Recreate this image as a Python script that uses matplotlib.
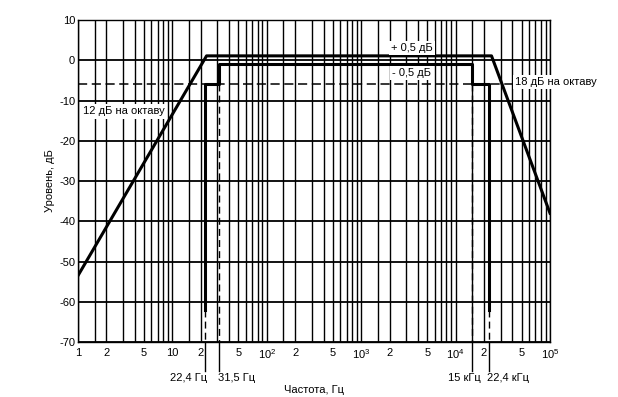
import numpy as np
import matplotlib
matplotlib.use("Agg")
import matplotlib.pyplot as plt
from matplotlib.ticker import FixedLocator, NullFormatter

plt.rcParams['font.family'] = ['Liberation Sans', 'DejaVu Sans']
plt.rcParams['mathtext.fontset'] = 'custom'
plt.rcParams['mathtext.rm'] = 'Liberation Sans'
plt.rcParams['mathtext.default'] = 'regular'
plt.rcParams['axes.unicode_minus'] = False

# ---------------------------------------------------------------------
# Datos
# ---------------------------------------------------------------------
# Máscara superior (12 dB/oct abajo, 18 dB/oct arriba)
f_sup = [1, 23, 24000, 1e5]
nivel_sup = [-53.5, 1.1, 1.1, -38]

# Máscara inferior (escalones en 22,4 Гц / 31,5 Гц y 15 кГц / 22,4 кГц)
f_inf = [22.4, 22.4, 31.5, 31.5, 15000, 15000, 22400, 22400]
nivel_inf = [-62, -6, -6, -0.9, -0.9, -6, -6, -62]

# Línea de trazos a -6 dB
f_trazos = [1, 40000]
nivel_trazos = [-6, -6]

# Frecuencias marcadas debajo del eje
f_marcas = [22.4, 31.5, 15000, 22400]
nivel_marcas_ini = [-62, -6, -6, -62]
textos_marcas = ["22,4 Гц", "31,5 Гц", "15 кГц", "22,4 кГц"]
x_textos_marcas = [23.6, 30.3, 18500, 21600]
ha_marcas = ["right", "left", "right", "left"]

# Ejes
ticks_x = [1, 2, 5, 10, 20, 50, 100, 200, 500, 1000, 2000, 5000,
           10000, 20000, 50000, 100000]
etiquetas_x = ["1", "2", "5", "10", "2", "5", r"$10^2$", "2", "5", r"$10^3$",
               "2", "5", r"$10^4$", "2", "5", r"$10^5$"]
mult_menores = [1.5, 3, 4, 6, 7, 8, 9]
ticks_y = [10, 0, -10, -20, -30, -40, -50, -60, -70]

fig = plt.figure(figsize=(6.18, 3.97), dpi=100)
ax = fig.add_axes([0.1262, 0.1385, 0.7638, 0.811])

ax.set_xscale("log")
ax.set_xlim(1, 1e5)
ax.set_ylim(-70, 10)

ax.xaxis.set_major_locator(FixedLocator(ticks_x))
ax.set_xticklabels(etiquetas_x)
menores = [m * 10 ** d for d in range(5) for m in mult_menores]
ax.xaxis.set_minor_locator(FixedLocator(menores))
ax.xaxis.set_minor_formatter(NullFormatter())
ax.set_yticks(ticks_y)
ax.tick_params(axis="both", which="both", length=0, labelsize=8)
ax.tick_params(axis="x", pad=4)
ax.tick_params(axis="y", pad=2)

ax.grid(True, axis="x", which="both", color="black", linewidth=1.0)
ax.grid(True, axis="y", which="major", color="black", linewidth=1.3)
ax.set_axisbelow(True)
for s in ax.spines.values():
    s.set_linewidth(1.0)

# Curvas
ax.plot(f_sup, nivel_sup, color="black", linewidth=2.2, zorder=4)
ax.plot(f_inf, nivel_inf, color="black", linewidth=2.2, zorder=4)
ax.plot(f_trazos, nivel_trazos, color="black", linewidth=1.1,
        linestyle=(0, (6, 3)), zorder=3, clip_on=False)

# Verticales de las frecuencias marcadas
for f, y0, txt, xt, ha in zip(f_marcas, nivel_marcas_ini, textos_marcas,
                              x_textos_marcas, ha_marcas):
    ax.plot([f, f], [y0, -70], color="black", linewidth=1.0,
            linestyle=(0, (5, 3)), zorder=3)
    ax.plot([f, f], [-70, -77.3], color="black", linewidth=1.0,
            clip_on=False, zorder=3)
    ax.text(xt, -77.6, txt, ha=ha, va="top", fontsize=8, clip_on=False)

caja = dict(facecolor="white", edgecolor="none", pad=1.5)
ax.text(3.07, -12.7, "12 дБ на октаву", ha="center", va="center",
        fontsize=8, bbox=caja, zorder=5)
ax.text(3450, 3.1, "+ 0,5 дБ", ha="center", va="center",
        fontsize=8, bbox=caja, zorder=5)
ax.text(3450, -3.1, "- 0,5 дБ", ha="center", va="center",
        fontsize=8, bbox=caja, zorder=5)
ax.text(43000, -5.4, "18 дБ на октаву", ha="left", va="center",
        fontsize=8, bbox=caja, zorder=5, clip_on=False)

ax.set_xlabel("Частота, Гц", fontsize=8)
ax.xaxis.set_label_coords(0.5, -0.134)
ax.set_ylabel("Уровень, дБ", fontsize=8)
ax.yaxis.set_label_coords(-0.049, 0.5)

fig.savefig("out.png", dpi=100)
